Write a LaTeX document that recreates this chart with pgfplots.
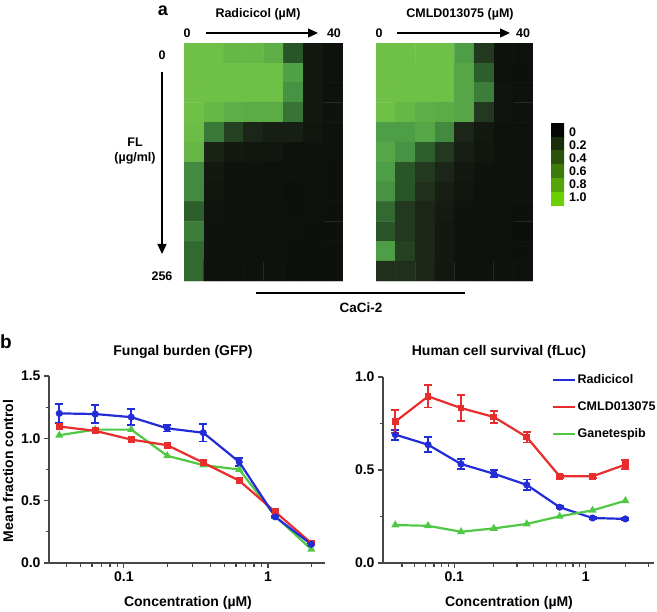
\documentclass[border=0pt]{standalone}
\usepackage{fontspec}
\setmainfont{Liberation Sans}
\usepackage{pgfplots}
\pgfplotsset{compat=1.18}
\usepackage{pgfplotstable}
\usetikzlibrary{arrows.meta}
\definecolor{cblue}{RGB}{35,45,215}
\definecolor{cred}{RGB}{232,45,45}
\definecolor{cgreen}{RGB}{80,200,70}
\newcommand{\lf}{\fontsize{12.5}{14.5}\selectfont\bfseries}
\newcommand{\bff}{\fontsize{14}{16}\selectfont\bfseries}

\pgfplotstableread{
x y c
0 0 1.0
1 0 1.0
2 0 0.95
3 0 0.95
4 0 0.9
5 0 0.45
6 0 0.1
7 0 0.05
0 1 1.0
1 1 1.0
2 1 1.0
3 1 1.0
4 1 1.0
5 1 0.82
6 1 0.1
7 1 0.05
0 2 1.0
1 2 1.0
2 2 1.0
3 2 1.0
4 2 1.0
5 2 0.75
6 2 0.1
7 2 0.05
0 3 1.0
1 3 0.95
2 3 0.9
3 3 0.88
4 3 0.88
5 3 0.6
6 3 0.1
7 3 0.06
0 4 0.98
1 4 0.62
2 4 0.35
3 4 0.2
4 4 0.15
5 4 0.15
6 4 0.08
7 4 0.05
0 5 0.95
1 5 0.18
2 5 0.1
3 5 0.08
4 5 0.08
5 5 0.05
6 5 0.06
7 5 0.05
0 6 0.7
1 6 0.1
2 6 0.06
3 6 0.06
4 6 0.05
5 6 0.05
6 6 0.05
7 6 0.04
0 7 0.7
1 7 0.08
2 7 0.05
3 7 0.05
4 7 0.05
5 7 0.03
6 7 0.05
7 7 0.04
0 8 0.5
1 8 0.07
2 8 0.05
3 8 0.05
4 8 0.05
5 8 0.04
6 8 0.05
7 8 0.04
0 9 0.65
1 9 0.06
2 9 0.05
3 9 0.05
4 9 0.05
5 9 0.05
6 9 0.04
7 9 0.04
0 10 0.55
1 10 0.06
2 10 0.05
3 10 0.05
4 10 0.05
5 10 0.04
6 10 0.04
7 10 0.04
0 11 0.55
1 11 0.05
2 11 0.05
3 11 0.05
4 11 0.05
5 11 0.04
6 11 0.04
7 11 0.04
}\heatA

\pgfplotstableread{
x y c
0 0 1.0
1 0 1.0
2 0 1.0
3 0 1.0
4 0 0.8
5 0 0.3
6 0 0.05
7 0 0.05
0 1 1.0
1 1 1.0
2 1 1.0
3 1 1.0
4 1 0.85
5 1 0.5
6 1 0.05
7 1 0.04
0 2 1.0
1 2 1.0
2 2 1.0
3 2 1.0
4 2 0.85
5 2 0.65
6 2 0.07
7 2 0.05
0 3 1.0
1 3 0.95
2 3 0.9
3 3 0.88
4 3 0.85
5 3 0.3
6 3 0.07
7 3 0.05
0 4 0.8
1 4 0.8
2 4 0.85
3 4 0.7
4 4 0.2
5 4 0.1
6 4 0.05
7 4 0.05
0 5 0.85
1 5 0.75
2 5 0.5
3 5 0.3
4 5 0.15
5 5 0.08
6 5 0.05
7 5 0.05
0 6 0.8
1 6 0.45
2 6 0.3
3 6 0.2
4 6 0.1
5 6 0.06
6 6 0.05
7 6 0.05
0 7 0.75
1 7 0.45
2 7 0.25
3 7 0.15
4 7 0.08
5 7 0.05
6 7 0.05
7 7 0.05
0 8 0.55
1 8 0.3
2 8 0.2
3 8 0.12
4 8 0.06
5 8 0.05
6 8 0.05
7 8 0.04
0 9 0.45
1 9 0.3
2 9 0.2
3 9 0.1
4 9 0.06
5 9 0.05
6 9 0.05
7 9 0.02
0 10 0.8
1 10 0.35
2 10 0.2
3 10 0.1
4 10 0.06
5 10 0.05
6 10 0.05
7 10 0.04
0 11 0.25
1 11 0.25
2 11 0.2
3 11 0.1
4 11 0.06
5 11 0.05
6 11 0.05
7 11 0.05
}\heatB

\pgfplotstableread{
x y c
0 0 0
1 0 0
0 1 0.2
1 1 0.2
0 2 0.4
1 2 0.4
0 3 0.6
1 3 0.6
0 4 0.8
1 4 0.8
0 5 1.0
1 5 1.0
}\cbar

\pgfplotstableread{
c b be r g
0.0356 1.20 0.075 1.095 1.025
0.0632 1.195 0.07 1.06 1.07
0.1125 1.17 0.065 0.99 1.07
0.2 1.08 0.025 0.945 0.86
0.3557 1.045 0.07 0.805 0.785
0.6325 0.81 0.03 0.66 0.75
1.1247 0.37 0.01 0.41 0.375
2.0 0.15 0.01 0.16 0.11
}\leftT

\pgfplotstableread{
c b be r re g
0.0356 0.69 0.027 0.76 0.063 0.204
0.0632 0.636 0.04 0.896 0.06 0.200
0.1125 0.532 0.027 0.833 0.07 0.168
0.2 0.48 0.018 0.785 0.031 0.186
0.3557 0.42 0.029 0.677 0.029 0.21
0.6325 0.30 0.005 0.466 0.008 0.251
1.1247 0.242 0.005 0.466 0.008 0.283
2.0 0.237 0.005 0.529 0.025 0.335
}\rightT

\pgfplotsset{
  heat/.style={scale only axis, hide axis, anchor=south west,
    y dir=reverse, enlargelimits=false,
    point meta min=0, point meta max=1},
  ebar/.style={/pgfplots/error bars/y dir=both, /pgfplots/error bars/y explicit,
    /pgfplots/error bars/error bar style={line width=1.8pt},
    /pgfplots/error bars/error mark options={rotate=90, mark size=4pt, line width=1.8pt}}
}

\begin{document}
\begin{tikzpicture}
\path[use as bounding box] (0pt,0pt) rectangle (657pt,-612pt);

% heatmaps
\begin{axis}[heat, at={(184pt,-281pt)}, width=159pt, height=238pt,
  colormap={gr}{rgb255(0cm)=(10,11,9) rgb255(2cm)=(28,38,24) rgb255(5cm)=(45,95,45) rgb255(8cm)=(78,158,72) rgb255(10cm)=(110,192,70)},
  xmin=-0.5, xmax=7.5, ymin=-0.5, ymax=11.5]
\addplot[matrix plot*, mesh/cols=8, point meta=explicit] table[x=x,y=y,meta=c]{\heatA};
\end{axis}
\begin{axis}[heat, at={(376pt,-281pt)}, width=157pt, height=238pt,
  colormap={gr}{rgb255(0cm)=(10,11,9) rgb255(2cm)=(28,38,24) rgb255(5cm)=(45,95,45) rgb255(8cm)=(78,158,72) rgb255(10cm)=(110,192,70)},
  xmin=-0.5, xmax=7.5, ymin=-0.5, ymax=11.5]
\addplot[matrix plot*, mesh/cols=8, point meta=explicit] table[x=x,y=y,meta=c]{\heatB};
\end{axis}
\begin{axis}[heat, at={(551pt,-206pt)}, width=13pt, height=83pt,
  colormap={cb}{rgb255(0cm)=(5,5,5) rgb255(2cm)=(25,45,10) rgb255(4cm)=(42,82,10) rgb255(6cm)=(62,122,10) rgb255(8cm)=(85,165,10) rgb255(10cm)=(108,208,5)},
  xmin=-0.5, xmax=1.5, ymin=-0.5, ymax=5.5]
\addplot[matrix plot*, mesh/cols=2, point meta=explicit] table[x=x,y=y,meta=c]{\cbar};
\end{axis}

% panel a text
\node[font=\fontsize{18}{20}\selectfont\bfseries] at (163pt,-11pt) {a};
\node[font=\lf] at (258pt,-14pt) {Radicicol (µM)};
\node[font=\lf] at (187pt,-33pt) {0};
\draw[line width=1.4pt, -{Triangle[length=10pt,width=9pt]}] (206pt,-33pt) -- (318pt,-33pt);
\node[font=\lf] at (334pt,-33pt) {40};
\node[font=\lf] at (460pt,-14pt) {CMLD013075 (µM)};
\node[font=\lf] at (379pt,-33pt) {0};
\draw[line width=1.4pt, -{Triangle[length=10pt,width=9pt]}] (397pt,-33pt) -- (510pt,-33pt);
\node[font=\lf] at (523pt,-33pt) {40};
\node[font=\lf] at (162pt,-55pt) {0};
\draw[line width=1.4pt, -{Triangle[length=10pt,width=9pt]}] (162pt,-72pt) -- (162pt,-254pt);
\node[font=\lf] at (162pt,-276pt) {256};
\node[font=\lf, align=center, fill=white, inner sep=1pt] at (135pt,-151pt) {FL\\(µg/ml)};
\draw[line width=1.1pt] (256pt,-293pt) -- (465pt,-293pt);
\node[font=\fontsize{13.5}{15}\selectfont\bfseries] at (361pt,-308pt) {CaCi-2};
\foreach \v/\yy in {0/132,0.2/145,0.4/158,0.6/171,0.8/184,1.0/197}
  \node[font=\lf, anchor=west, inner sep=0pt] at (569pt,-\yy pt) {\v};

% panel b
\node[font=\fontsize{19}{21}\selectfont\bfseries] at (6pt,-342pt) {b};
\node[font=\bff] at (183pt,-352pt) {Fungal burden (GFP)};
\node[font=\bff] at (499pt,-352pt) {Human cell survival (fLuc)};
\node[font=\bff] at (188pt,-603pt) {Concentration (µM)};
\node[font=\bff] at (509pt,-603pt) {Concentration (µM)};
\node[font=\bff, rotate=90] at (8pt,-471pt) {Mean fraction control};

\begin{axis}[scale only axis, anchor=south west, xmode=log,
  axis x line*=bottom, axis y line*=left,
  axis line style={line width=1.4pt, black!72},
  every tick/.style={line width=1.2pt, black!72},
  tick align=outside, major tick length=5pt, minor tick length=3.5pt,
  xtick={0.1,1}, xticklabels={0.1,1},
  minor xtick={0.04,0.05,0.06,0.07,0.08,0.09,0.2,0.3,0.4,0.5,0.6,0.7,0.8,0.9,2},
  tick label style={font=\bff}, clip=false,
  at={(49pt,-563pt)}, width=276pt, height=187pt,
  xmin=0.0302, xmax=2.49, ymin=0, ymax=1.5,
  ytick={0,0.5,1,1.5}, yticklabels={0.0,0.5,1.0,1.5}, minor ytick={0.25,0.75,1.25}]
\addplot[cgreen, line width=2.2pt, mark=triangle*, mark size=2.5pt] table[x=c,y=g]{\leftT};
\addplot[cred, line width=2.2pt, mark=square*, mark size=2.3pt] table[x=c,y=r]{\leftT};
\addplot[cblue, line width=2.2pt, mark=*, mark size=2.4pt, ebar] table[x=c,y=b,y error=be]{\leftT};
\end{axis}

\begin{axis}[scale only axis, anchor=south west, xmode=log,
  axis x line*=bottom, axis y line*=left,
  axis line style={line width=1.4pt, black!72},
  every tick/.style={line width=1.2pt, black!72},
  tick align=outside, major tick length=5pt, minor tick length=3.5pt,
  xtick={0.1,1}, xticklabels={0.1,1},
  minor xtick={0.04,0.05,0.06,0.07,0.08,0.09,0.2,0.3,0.4,0.5,0.6,0.7,0.8,0.9,2,3},
  tick label style={font=\bff}, clip=false,
  at={(383pt,-563pt)}, width=271pt, height=186pt,
  xmin=0.0287, xmax=3.3, ymin=0, ymax=1.0,
  ytick={0,0.5,1}, yticklabels={0.0,0.5,1.0}, minor ytick={0.25,0.75},
  legend style={at={(0.61,1.035)}, anchor=north west, draw=none, fill=none,
    font=\lf, row sep=12.5pt},
  legend cell align=left,
  legend image code/.code={\draw[line width=2.2pt] (0pt,0pt) -- (22pt,0pt);}]
\addplot[cblue, line width=2.2pt, mark=*, mark size=2.4pt, ebar] table[x=c,y=b,y error=be]{\rightT};
\addlegendentry{Radicicol}
\addplot[cred, line width=2.2pt, mark=square*, mark size=2.3pt, ebar] table[x=c,y=r,y error=re]{\rightT};
\addlegendentry{CMLD013075}
\addplot[cgreen, line width=2.2pt, mark=triangle*, mark size=2.5pt] table[x=c,y=g]{\rightT};
\addlegendentry{Ganetespib}
\end{axis}
\end{tikzpicture}
\end{document}
